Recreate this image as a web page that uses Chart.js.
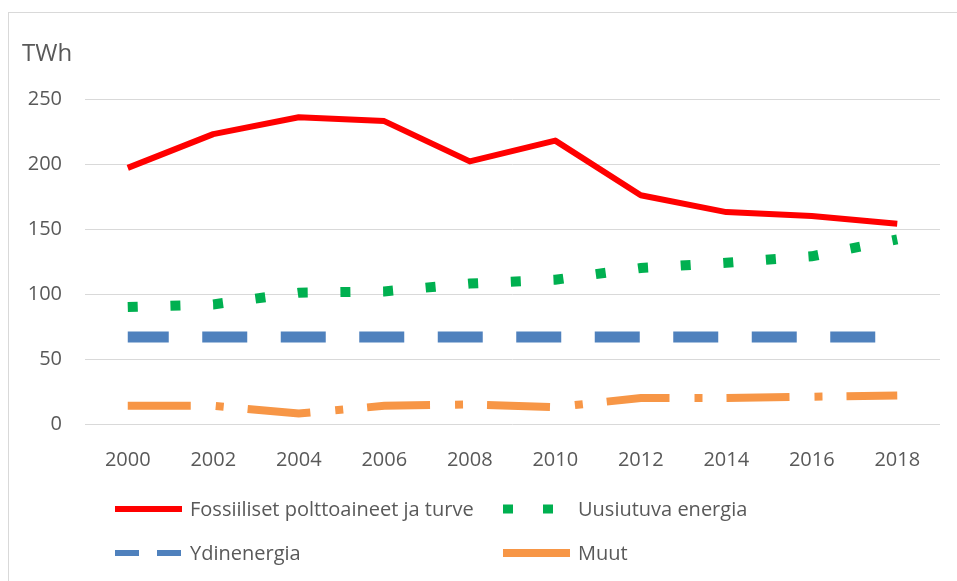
<!DOCTYPE html>
<html>
<head>
<meta charset="utf-8">
<script src="https://cdn.jsdelivr.net/npm/chart.js@4.4.1/dist/chart.umd.min.js"></script>
<style>
  html, body { margin: 0; padding: 0; background: #fff; }
  #wrap { position: relative; width: 957px; height: 581px; overflow: hidden; }
  #frame { position: absolute; left: 8px; top: 12px; right: -2px; bottom: -2px;
           border-left: 1px solid #d9d9d9; border-top: 1px solid #d9d9d9; }
  canvas { position: absolute; left: 0; top: 0; }
</style>
</head>
<body>
<div id="wrap">
  <div id="frame"></div>
  <canvas id="energyChart" width="957" height="581"></canvas>
</div>
<script>
// Data (TWh)
const years = ["2000", "2002", "2004", "2006", "2008", "2010", "2012", "2014", "2016", "2018"];
const fossil = [197, 223, 236, 233, 202, 218, 176, 163, 160, 154];
const renewable = [90, 92, 101, 102, 108, 111, 120, 124, 129, 142];
const nuclear = [67, 67, 67, 67, 67, 67, 67, 67, 67, 67];
const other = [14, 14, 8, 14, 15, 13, 20, 20, 21, 22];
const seriesNames = ["Fossiiliset polttoaineet ja turve", "Uusiutuva energia", "Ydinenergia", "Muut"];
const yTicks = [0, 50, 100, 150, 200, 250];

const FONT = "'Open Sans', sans-serif";
const TEXT = "#595959";

// legend samples use their own (shorter) dash patterns
const legendDash = [[], [10, 30], [24, 18], []];
const legendWidth = [6, 9, 6, 8];

const legendPlugin = {
  id: "gridLegend",
  afterDraw(chart) {
    const c = chart.ctx;
    c.save();
    // unit label
    c.font = "24px " + FONT;
    c.fillStyle = TEXT;
    c.textBaseline = "alphabetic";
    c.textAlign = "left";
    c.fillText("TWh", 22, 61);

    const cols = [115, 503];
    const rows = [509, 553];
    chart.data.datasets.forEach((ds, i) => {
      const x = cols[i % 2];
      const y = rows[Math.floor(i / 2)];
      c.beginPath();
      c.setLineDash(legendDash[i]);
      c.lineCap = "butt";
      c.lineWidth = legendWidth[i];
      c.strokeStyle = ds.borderColor;
      c.moveTo(x, y);
      c.lineTo(x + 67, y);
      c.stroke();
      c.setLineDash([]);
      c.font = "20px " + FONT;
      c.fillStyle = TEXT;
      c.textBaseline = "middle";
      c.fillText(ds.label, x + 75, y + 1);
    });
    c.restore();
  }
};

const ctx = document.getElementById("energyChart").getContext("2d");
new Chart(ctx, {
  type: "line",
  data: {
    labels: years,
    datasets: [
      { label: seriesNames[0], data: fossil, borderColor: "#ff0000", borderWidth: 6,
        borderJoinStyle: "round" },
      { label: seriesNames[1], data: renewable, borderColor: "#00b050", borderWidth: 10,
        borderDash: [10, 32.7] },
      { label: seriesNames[2], data: nuclear, borderColor: "#4f81bd", borderWidth: 11,
        borderDash: [45, 33.5], borderDashOffset: 4 },
      { label: seriesNames[3], data: other, borderColor: "#f79646", borderWidth: 8,
        borderDash: [63, 25, 8, 24] },
    ],
  },
  options: {
    responsive: false,
    animation: false,
    layout: { padding: { left: 0, right: 17, top: 99, bottom: 0 } },
    elements: {
      point: { radius: 0, hoverRadius: 0 },
      line: { tension: 0, fill: false, borderCapStyle: "butt" },
    },
    plugins: {
      legend: { display: false },
      tooltip: { enabled: false },
    },
    scales: {
      x: {
        offset: true,
        grid: { display: false, drawTicks: false },
        border: { display: false },
        ticks: { color: TEXT, font: { family: FONT, size: 20 }, padding: 24, maxRotation: 0 },
        afterFit: (s) => { s.height = 157; },
      },
      y: {
        min: 0,
        max: 250,
        afterBuildTicks: (s) => { s.ticks = yTicks.map((v) => ({ value: v })); },
        grid: { color: "#d9d9d9", lineWidth: 1, drawTicks: false },
        border: { display: false },
        ticks: { color: TEXT, font: { family: FONT, size: 20 }, padding: 23 },
        afterFit: (s) => { s.width = 85; },
      },
    },
  },
  plugins: [legendPlugin],
});
</script>
</body>
</html>
